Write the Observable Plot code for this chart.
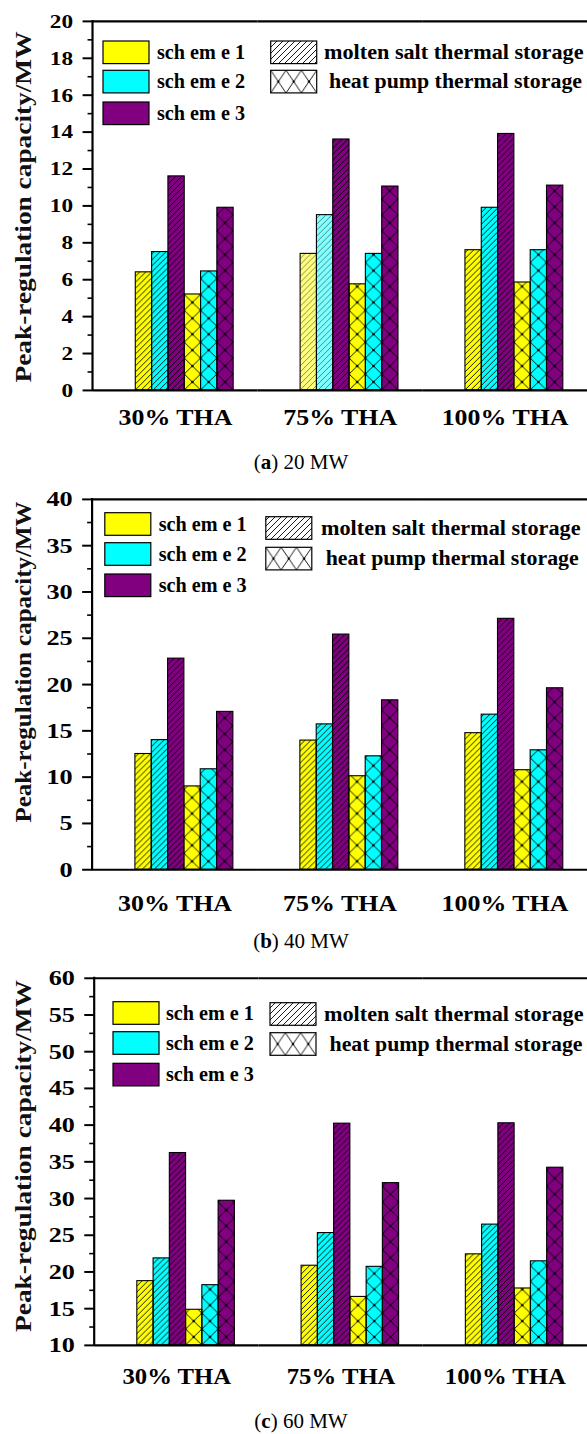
<!DOCTYPE html>
<html><head><meta charset="utf-8">
<script src="https://cdn.jsdelivr.net/npm/d3@7"></script>
<script src="https://cdn.jsdelivr.net/npm/@observablehq/plot@0.6"></script>
<style>
html,body{margin:0;padding:0;background:#fff;overflow:hidden;}
#page{position:relative;width:587px;height:1434px;overflow:hidden;background:#fff;}
#page > svg{position:absolute;left:0;}
</style></head><body><div id="page"></div>
<script>
// ---------- data ----------
const groups = ["30% THA", "75% THA", "100% THA"];
const schemes = ["sch em e 1", "sch em e 2", "sch em e 3"];
const storages = ["molten salt thermal storage", "heat pump thermal storage"];
const schemeColors = ["#ffff00", "#00ffff", "#800080"];

// rows = groups (30%, 75%, 100% THA), columns = schemes 1..3
const molten20 = [[6.4, 7.5, 11.6], [7.4, 9.5, 13.6], [7.6, 9.9, 13.9]];
const heat20   = [[5.2, 6.45, 9.9], [5.75, 7.4, 11.05], [5.85, 7.6, 11.1]];
const molten40 = [[12.5, 14.0, 22.8], [13.95, 15.7, 25.4], [14.75, 16.75, 27.1]];
const heat40   = [[9.0, 10.85, 17.05], [10.1, 12.25, 18.3], [10.75, 12.9, 19.6]];
const molten60 = [[18.75, 21.85, 36.2], [20.85, 25.3, 40.2], [22.4, 26.45, 40.25]];
const heat60   = [[14.85, 18.2, 29.7], [16.6, 20.7, 32.1], [17.75, 21.45, 34.2]];

const ticks20 = [0, 2, 4, 6, 8, 10, 12, 14, 16, 18, 20];
const minor20 = [1, 3, 5, 7, 9, 11, 13, 15, 17, 19];
const ticks40 = [0, 5, 10, 15, 20, 25, 30, 35, 40];
const minor40 = [2.5, 7.5, 12.5, 17.5, 22.5, 27.5, 32.5, 37.5];
const ticks60 = [10, 15, 20, 25, 30, 35, 40, 45, 50, 55, 60];
const minor60 = [12.5, 17.5, 22.5, 27.5, 32.5, 37.5, 42.5, 47.5, 52.5, 57.5];

const yTitle = "Peak-regulation capacity/MW";
const captionLetters = ["a", "b", "c"];
const captionTexts = ["20 MW", "40 MW", "60 MW"];

// ---------- helpers ----------
const FONT = "'Liberation Serif', 'Times New Roman', serif";
const barKeys = storages.flatMap(st => schemes.map(s => st + "|" + s));

function rowsFor(molten, heat) {
  const rows = [];
  groups.forEach((g, gi) => {
    [molten, heat].forEach((m, k) => {
      schemes.forEach((s, si) => rows.push({
        group: g, scheme: s, storage: storages[k], key: storages[k] + "|" + s, value: m[gi][si]
      }));
    });
  });
  return rows;
}

const page = document.getElementById("page");

// overlay (titles, legends, captions) with shared hatch pattern
const overlay = d3.create("svg").attr("width", 587).attr("height", 1434)
  .style("top", "0px").style("pointer-events", "none");
const odefs = overlay.append("defs");
const hatch = odefs.append("pattern").attr("id", "hatch").attr("patternUnits", "userSpaceOnUse")
  .attr("width", 6).attr("height", 6);
hatch.append("path").attr("d", "M-1,1 L1,-1 M0,6 L6,0 M5,7 L7,5")
  .attr("stroke", "#000").attr("stroke-width", 0.9);

const panels = [
  {id: "a", molten: molten20, heat: heat20, domain: [0, 20], ticks: ticks20, minor: minor20,
   top: 0, mt: 21, plotH: 371, ml: 93, tickFont: 20, tickK: 1.17, fxFont: 24, fxPad: 17.6, fxK: 1.085,
   fade: d => d.group === groups[1] && d.storage === storages[0] && d.scheme !== schemes[2],
   leg: {sx: 103, sy: [20, 49.3, 81], tx: 157, hx: 270.7, hy: [20, 49.3], htx: [324, 329]},
   title: {cy: 207, len: 351}, cap: {y: 469.3}},
  {id: "b", molten: molten40, heat: heat40, domain: [0, 40], ticks: ticks40, minor: minor40,
   top: 473.7, mt: 25, plotH: 372, ml: 92.5, tickFont: 22, tickK: 1.2, fxFont: 24, fxPad: 24, fxK: 1.085,
   fade: d => false,
   leg: {sx: 104.8, sy: [14, 44, 75.3], tx: 158.7, hx: 265.8, hy: [18, 48.6], htx: [321, 325.7]},
   title: {cy: 662, len: 321}, cap: {y: 948}},
  {id: "c", molten: molten60, heat: heat60, domain: [10, 60], ticks: ticks60, minor: minor60,
   top: 952.7, mt: 25, plotH: 370.3, ml: 95, tickFont: 22, tickK: 1.2, fxFont: 23, fxPad: 22.4, fxK: 1.085,
   fade: d => false,
   leg: {sx: 113, sy: [24, 54, 85.6], tx: 165.9, hx: 270, hy: [25, 55], htx: [324, 329.5]},
   title: {cy: 1156, len: 352}, cap: {y: 1428.3}}
];

const facetW = 165.7, bandW = 16.4, groupOffset = 43;

panels.forEach((p, pi) => {
  const rows = rowsFor(p.molten, p.heat);
  const y0 = p.domain[0];
  const mb = 55;
  const width = p.ml + 3 * facetW;
  const po = (facetW / bandW - 6) / 2;
  const align = groupOffset / (facetW - 6 * bandW);
  const common = {fx: "group", x: "key", y1: () => y0, y2: "value", fillOpacity: d => p.fade(d) ? 0.5 : 1};
  const plot = Plot.plot({
    width, height: p.mt + p.plotH + mb,
    marginLeft: p.ml, marginRight: 0, marginTop: p.mt, marginBottom: mb,
    style: {fontFamily: FONT, color: "#000", background: "transparent", overflow: "visible"},
    fx: {domain: groups, padding: 0, round: false, label: null},
    x: {domain: barKeys, paddingInner: 0, paddingOuter: po, align, round: false, axis: null},
    y: {domain: p.domain, label: null},
    color: {domain: schemes, range: schemeColors},
    marks: [
      Plot.barY(rows, {...common, fill: "scheme"}),
      Plot.barY(rows.filter(d => d.storage === storages[0]), {...common, fill: "url(#hatch)", stroke: "#000", strokeWidth: 1.1}),
      Plot.barY(rows.filter(d => d.storage === storages[1]), {...common, fill: `url(#cross-${p.id})`, stroke: "#000", strokeWidth: 1.1}),
      Plot.ruleY([p.domain[1]], {strokeWidth: 2.2}),
      Plot.ruleY([p.domain[0]], {strokeWidth: 2.2}),
      Plot.axisY({ticks: p.minor, tickSize: 5, tickFormat: () => "", strokeWidth: 1.6, label: null}),
      Plot.axisY({ticks: p.ticks, tickSize: 10, tickPadding: 10, strokeWidth: 2, label: null,
        fontSize: p.tickFont, fontWeight: "bold", tickFormat: d => String(d)}),
      Plot.axisFx({anchor: "bottom", tickSize: 0, tickPadding: p.fxPad, fontSize: p.fxFont, fontWeight: "bold", label: null})
    ]
  });
  plot.style.top = (p.top) + "px";
  page.appendChild(plot);

  const svg = d3.select(plot);
  // cross pattern aligned to bar bands
  const xs = plot.scale("x");
  const ys = plot.scale("y");
  const bx = xs.apply(barKeys[0]);
  const bw = xs.bandwidth;
  const ch = 16;
  const defs = svg.insert("defs", ":first-child");
  const cp = defs.append("pattern").attr("id", `cross-${p.id}`).attr("patternUnits", "userSpaceOnUse")
    .attr("x", bx).attr("y", ys.apply(y0)).attr("width", bw).attr("height", ch);
  cp.append("path").attr("d", `M0,0 L${bw},${ch} M${bw},0 L0,${ch}`).attr("stroke", "#000").attr("stroke-width", 0.9);
  [[bw / 2, ch / 2], [0, 0], [bw, 0], [0, ch], [bw, ch]].forEach(([cx, cy]) =>
    cp.append("circle").attr("cx", cx).attr("cy", cy).attr("r", 1.3).attr("fill", "#000"));

  // left axis line
  const topY = ys.apply(p.domain[1]), botY = ys.apply(p.domain[0]);
  svg.append("line").attr("x1", p.ml).attr("x2", p.ml).attr("y1", topY - 1).attr("y2", botY + 1)
    .attr("stroke", "#000").attr("stroke-width", 2.2);

  // stretch tick labels to match the wide lettering
  svg.selectAll('g[aria-label="y-axis tick label"] text').each(function () {
    const L = this.getComputedTextLength();
    if (L > 0) { this.setAttribute("textLength", L * p.tickK); this.setAttribute("lengthAdjust", "spacingAndGlyphs"); }
  });
  svg.selectAll('g[aria-label="fx-axis tick label"] text').each(function () {
    const L = this.getComputedTextLength();
    if (L > 0) { this.setAttribute("textLength", L * p.fxK); this.setAttribute("lengthAdjust", "spacingAndGlyphs"); }
  });

  // ----- overlay: legend, y title, caption -----
  const frameTop = p.top + p.mt;
  const g = overlay.append("g").attr("font-family", FONT).attr("fill", "#000");
  const sw = 46, sh = 22.6;
  schemes.forEach((s, si) => {
    const yy = frameTop + p.leg.sy[si];
    g.append("rect").attr("x", p.leg.sx).attr("y", yy).attr("width", sw).attr("height", sh)
      .attr("fill", schemeColors[si]).attr("stroke", "#000").attr("stroke-width", 1.2);
    g.append("text").attr("x", p.leg.tx).attr("y", yy + sh / 2 + 6.6)
      .attr("font-size", 20.5).attr("font-weight", "bold").attr("textLength", 88)
      .attr("lengthAdjust", "spacingAndGlyphs").text(s);
  });
  // legend cross pattern
  const lcp = odefs.append("pattern").attr("id", `lcross-${p.id}`).attr("patternUnits", "userSpaceOnUse")
    .attr("x", p.leg.hx).attr("y", frameTop + p.leg.hy[1]).attr("width", sw / 3).attr("height", sh);
  lcp.append("path").attr("d", `M0,0 L${sw / 3},${sh} M${sw / 3},0 L0,${sh}`).attr("stroke", "#000").attr("stroke-width", 0.9);
  lcp.append("circle").attr("cx", sw / 6).attr("cy", sh / 2).attr("r", 1.2).attr("fill", "#000");
  const storFill = ["url(#hatch)", `url(#lcross-${p.id})`];
  const storLen = [259.5, 253];
  storages.forEach((st, k) => {
    const yy = frameTop + p.leg.hy[k];
    g.append("rect").attr("x", p.leg.hx).attr("y", yy).attr("width", sw).attr("height", sh)
      .attr("fill", "#fff").attr("stroke", "none");
    g.append("rect").attr("x", p.leg.hx).attr("y", yy).attr("width", sw).attr("height", sh)
      .attr("fill", storFill[k]).attr("stroke", "#000").attr("stroke-width", 1.2);
    g.append("text").attr("x", p.leg.htx[k]).attr("y", yy + sh / 2 + 6.6)
      .attr("font-size", 20.5).attr("font-weight", "bold").attr("textLength", storLen[k])
      .attr("lengthAdjust", "spacingAndGlyphs").text(st);
  });
  // y title
  g.append("text").attr("transform", `translate(30.5,${p.title.cy}) rotate(-90)`)
    .attr("text-anchor", "middle").attr("font-size", 23).attr("font-weight", "bold")
    .attr("fill", "#111").attr("textLength", p.title.len).attr("lengthAdjust", "spacingAndGlyphs")
    .text(yTitle);
  // caption
  const cap = g.append("text").attr("x", 301).attr("y", p.cap.y).attr("text-anchor", "middle")
    .attr("font-size", 21);
  cap.append("tspan").text("(");
  cap.append("tspan").attr("font-weight", "bold").text(captionLetters[pi]);
  cap.append("tspan").text(") " + captionTexts[pi]);
});

page.appendChild(overlay.node());
</script>
</body></html>
